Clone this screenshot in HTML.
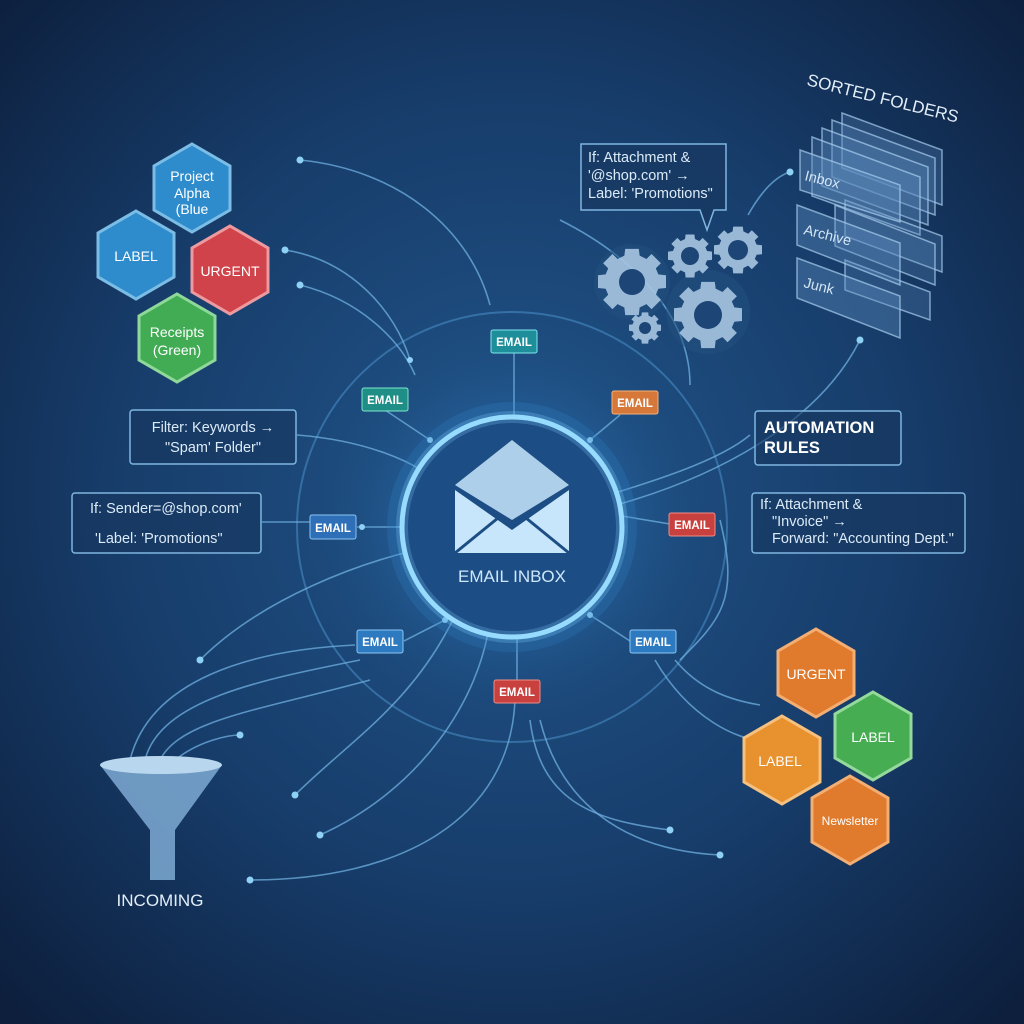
<!DOCTYPE html>
<html><head><meta charset="utf-8"><style>
html,body{margin:0;padding:0;width:1024px;height:1024px;overflow:hidden;background:#132a4f}
svg text{font-family:"Liberation Sans",sans-serif}
</style></head><body>
<svg width="1024" height="1024" viewBox="0 0 1024 1024" xmlns="http://www.w3.org/2000/svg">
<defs>
<radialGradient id="bg" cx="50%" cy="48%" r="70%">
<stop offset="0" stop-color="#21558a"/><stop offset="0.55" stop-color="#173d6b"/><stop offset="1" stop-color="#0d1f3d"/>
</radialGradient>
<radialGradient id="glow" cx="50%" cy="50%" r="50%">
<stop offset="0" stop-color="#4fa3e0" stop-opacity="0.55"/><stop offset="0.6" stop-color="#2d76b8" stop-opacity="0.35"/><stop offset="1" stop-color="#1b4a80" stop-opacity="0"/>
</radialGradient>
<polygon id="hx" points="0,-44 38,-22 38,22 0,44 -38,22 -38,-22"/>
<g id="gear">
<path d="M-8,-30 L8,-30 L9,-22 L17,-18 L23,-24 L34,-13 L28,-7 L31,0 L40,1 L40,16 L31,17 L28,24 L34,30 L23,41 L17,35 L9,39 L8,48 L-8,48 L-9,39 L-17,35 L-23,41 L-34,30 L-28,24 L-31,17 L-40,16 L-40,1 L-31,0 L-28,-7 L-34,-13 L-23,-24 L-17,-18 L-9,-22Z" transform="translate(0,-9)"/>
</g>
</defs>
<rect width="1024" height="1024" fill="url(#bg)"/>
<!-- big circles -->
<circle cx="512" cy="527" r="215" fill="none" stroke="#4d95cf" stroke-opacity="0.5" stroke-width="2"/>
<circle cx="512" cy="527" r="200" fill="url(#glow)" opacity="0.6"/>
<!-- connector lines -->
<g fill="none" stroke="#6fb0e0" stroke-opacity="0.75" stroke-width="1.6">
<path d="M300,160 C400,170 470,230 490,305"/>
<path d="M285,250 C350,260 395,310 410,360"/>
<path d="M300,285 C360,300 400,340 415,375"/>
<path d="M514,352 L514,420"/>
<path d="M385,410 L430,440"/>
<path d="M620,415 L590,440"/>
<path d="M297,435 C360,440 420,460 445,490"/>
<path d="M262,522 L310,522 M357,527 L445,527"/>
<path d="M670,524 L598,512"/>
<path d="M575,505 C660,480 720,460 750,435"/>
<path d="M590,512 C720,480 820,420 860,340"/>
<path d="M200,660 C260,600 360,560 440,545"/>
<path d="M404,641 L445,620"/>
<path d="M630,641 L590,615"/>
<path d="M517,680 L517,625"/>
<path d="M130,760 C150,680 250,650 355,645"/>
<path d="M145,760 C160,700 260,680 360,660"/>
<path d="M160,760 C180,720 260,710 370,680"/>
<path d="M175,760 C200,740 230,735 240,735"/>
<path d="M295,795 C350,740 420,700 462,600"/>
<path d="M320,835 C420,790 480,700 490,620"/>
<path d="M250,880 C400,880 510,820 515,700"/>
<path d="M540,720 C560,800 620,850 720,855"/>
<path d="M530,720 C540,800 590,820 670,830"/>
<path d="M655,660 C690,720 740,740 760,740"/>
<path d="M675,660 C700,690 730,700 760,705"/>
<path d="M560,220 C640,260 690,320 690,385"/>
<path d="M748,215 C765,185 780,175 790,172"/>
<path d="M720,520 C740,600 720,620 680,660"/>
</g>
<g fill="#8fd0f5">
<circle cx="300" cy="160" r="3.5"/><circle cx="285" cy="250" r="3.5"/><circle cx="300" cy="285" r="3.5"/>
<circle cx="410" cy="360" r="3"/><circle cx="514" cy="420" r="3"/><circle cx="430" cy="440" r="3"/><circle cx="590" cy="440" r="3"/>
<circle cx="445" cy="490" r="3"/><circle cx="445" cy="527" r="3"/><circle cx="362" cy="527" r="3"/><circle cx="598" cy="512" r="3"/>
<circle cx="575" cy="505" r="3"/><circle cx="860" cy="340" r="3.5"/><circle cx="200" cy="660" r="3.5"/><circle cx="445" cy="620" r="3"/>
<circle cx="590" cy="615" r="3"/><circle cx="517" cy="625" r="3"/><circle cx="240" cy="735" r="3.5"/><circle cx="295" cy="795" r="3.5"/>
<circle cx="320" cy="835" r="3.5"/><circle cx="250" cy="880" r="3.5"/><circle cx="720" cy="855" r="3.5"/><circle cx="670" cy="830" r="3.5"/>
<circle cx="760" cy="740" r="3.5"/><circle cx="790" cy="172" r="3.5"/><circle cx="462" cy="600" r="3"/>
</g>
<!-- central inbox -->
<circle cx="512" cy="527" r="125" fill="#2f7fc4" opacity="0.25"/>
<circle cx="512" cy="527" r="110" fill="#1c4d84" stroke="#9fe0ff" stroke-width="5"/>
<circle cx="512" cy="527" r="110" fill="none" stroke="#7fd0ff" stroke-width="12" stroke-opacity="0.25"/>
<g fill="#c8e6fb">
<path d="M455,485 L512,440 L569,485 L512,520Z" opacity="0.85"/>
<path d="M455,490 L512,530 L569,490 L569,553 L455,553Z"/>
</g>
<path d="M455,553 L498,518 M569,553 L526,518" stroke="#1c4d84" stroke-width="3"/>
<text x="512" y="582" fill="#cfe7fb" font-size="17" text-anchor="middle">EMAIL INBOX</text>
<!-- email tags -->
<g font-size="11.5" font-weight="bold" text-anchor="middle" fill="#fff">
<rect x="491" y="330" width="46" height="23" rx="2" fill="#1e8e9a" stroke="#7ee6ee"/><text x="514" y="346">EMAIL</text>
<rect x="362" y="388" width="46" height="23" rx="2" fill="#1e8e86" stroke="#7ee6cc"/><text x="385" y="404">EMAIL</text>
<rect x="612" y="391" width="46" height="23" rx="2" fill="#d6783a" stroke="#f5b07a"/><text x="635" y="407">EMAIL</text>
<rect x="310" y="515" width="46" height="24" rx="2" fill="#2e6fb8" stroke="#8ac6f5"/><text x="333" y="532">EMAIL</text>
<rect x="669" y="513" width="46" height="23" rx="2" fill="#c9413f" stroke="#f08a86"/><text x="692" y="529">EMAIL</text>
<rect x="357" y="630" width="46" height="23" rx="2" fill="#2e7ac0" stroke="#8ac6f5"/><text x="380" y="646">EMAIL</text>
<rect x="630" y="630" width="46" height="23" rx="2" fill="#2e7ac0" stroke="#8ac6f5"/><text x="653" y="646">EMAIL</text>
<rect x="494" y="680" width="46" height="23" rx="2" fill="#c9413f" stroke="#f08a86"/><text x="517" y="696">EMAIL</text>
</g>
<!-- rule boxes -->
<g fill="#17375f" fill-opacity="0.6" stroke="#7fb6e0" stroke-width="1.5">
<rect x="130" y="410" width="166" height="54" rx="3"/>
<rect x="72" y="493" width="189" height="60" rx="3"/>
<rect x="755" y="411" width="146" height="54" rx="3"/>
<rect x="752" y="493" width="213" height="60" rx="3"/>
<path d="M581,144 L726,144 L726,210 L714,210 L707,230 L700,210 L581,210Z"/>
</g>
<g fill="#dbeaf7" font-size="14.5">
<text x="213" y="432" text-anchor="middle">Filter: Keywords →</text>
<text x="213" y="452" text-anchor="middle">"Spam' Folder"</text>
<text x="90" y="513">If: Sender=@shop.com'</text>
<text x="95" y="543">'Label: 'Promotions"</text>
<text x="760" y="509">If: Attachment &amp;</text>
<text x="772" y="526">"Invoice" →</text>
<text x="772" y="543">Forward: "Accounting Dept."</text>
<text x="588" y="162">If: Attachment &amp;</text>
<text x="588" y="180">'@shop.com' →</text>
<text x="588" y="198">Label: 'Promotions"</text>
</g>
<text x="764" y="433" fill="#fff" font-size="16.5" font-weight="bold">AUTOMATION</text>
<text x="764" y="453" fill="#fff" font-size="16.5" font-weight="bold">RULES</text>
<!-- gears -->
<g fill="#a7c6e2" opacity="0.9">
<circle cx="632" cy="282" r="38" fill="#23507f" opacity="0.6"/>
<circle cx="708" cy="312" r="42" fill="#23507f" opacity="0.6"/>
<g transform="translate(632,282) scale(0.85)"><use href="#gear"/></g>
<g transform="translate(690,256) scale(0.55)"><use href="#gear"/></g>
<g transform="translate(738,250) scale(0.6)"><use href="#gear"/></g>
<g transform="translate(708,315) scale(0.85)"><use href="#gear"/></g>
<g transform="translate(645,328) scale(0.4)"><use href="#gear"/></g>
</g>
<g fill="#1d4676">
<circle cx="632" cy="282" r="13"/><circle cx="690" cy="256" r="9"/><circle cx="738" cy="250" r="10"/><circle cx="708" cy="315" r="14"/><circle cx="645" cy="328" r="6"/>
</g>
<!-- folders -->
<g fill="#5d8bbd" fill-opacity="0.28" stroke="#a8cdee" stroke-opacity="0.7" stroke-width="1.5">
<path d="M842,113 L942,150 L942,205 L842,168Z"/>
<path d="M832,120 L935,158 L935,215 L832,177Z"/>
<path d="M822,128 L928,167 L928,225 L822,186Z"/>
<path d="M812,137 L920,177 L920,235 L812,196Z"/>
<path d="M845,200 L942,236 L942,272 L845,236Z"/>
<path d="M835,205 L935,244 L935,285 L835,246Z"/>
<path d="M845,260 L930,292 L930,320 L845,290Z"/>
<path d="M800,150 L900,185 L900,222 L800,190Z" fill-opacity="0.45"/>
<path d="M797,205 L900,243 L900,285 L797,245Z" fill-opacity="0.4"/>
<path d="M797,258 L900,296 L900,338 L797,298Z" fill-opacity="0.4"/>
</g>
<g fill="#d4e6f6" font-size="14.5">
<text x="804" y="180" transform="rotate(14 804 180)">Inbox</text>
<text x="803" y="234" transform="rotate(14 803 234)">Archive</text>
<text x="803" y="287" transform="rotate(14 803 287)">Junk</text>
</g>
<text x="806" y="85" fill="#e3eef8" font-size="17" transform="rotate(14 806 85)">SORTED FOLDERS</text>
<!-- hexagons -->
<g stroke-width="3" font-size="14" fill="#fff" text-anchor="middle">
<use href="#hx" x="192" y="188" fill="#2e8ccc" stroke="#7cbde6"/>
<use href="#hx" x="136" y="255" fill="#2e8ccc" stroke="#7cbde6"/>
<use href="#hx" x="230" y="270" fill="#d0434a" stroke="#ec9aa0"/>
<use href="#hx" x="177" y="338" fill="#42ac55" stroke="#8fd89a"/>
<text x="192" y="181" stroke="none">Project</text><text x="192" y="198" stroke="none">Alpha</text><text x="192" y="214" stroke="none">(Blue</text>
<text x="136" y="261" stroke="none">LABEL</text>
<text x="230" y="276" stroke="none">URGENT</text>
<text x="177" y="337" stroke="none">Receipts</text><text x="177" y="355" stroke="none">(Green)</text>
<use href="#hx" x="816" y="673" fill="#e07a2c" stroke="#f3ae74"/>
<use href="#hx" x="873" y="736" fill="#47ad53" stroke="#95d99c"/>
<use href="#hx" x="782" y="760" fill="#e8912f" stroke="#f6c07e"/>
<use href="#hx" x="850" y="820" fill="#e07a2c" stroke="#f3ae74"/>
<text x="816" y="679" stroke="none">URGENT</text>
<text x="873" y="742" stroke="none">LABEL</text>
<text x="780" y="766" stroke="none">LABEL</text>
<text x="850" y="825" stroke="none" font-size="12">Newsletter</text>
</g>
<!-- funnel -->
<path d="M100,765 L222,765 L175,830 L175,880 L150,880 L150,830Z" fill="#7eaad2" opacity="0.85"/>
<ellipse cx="161" cy="765" rx="61" ry="9" fill="#b9d6ef"/>
<text x="160" y="906" fill="#e3eef8" font-size="17" text-anchor="middle">INCOMING</text>
</svg>
</body></html>
